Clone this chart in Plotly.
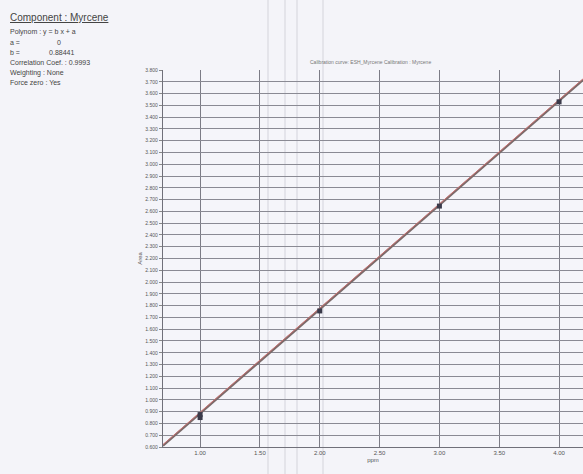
import plotly.graph_objects as go

# ---- data ----
amount = [1.0, 1.0, 2.0, 3.0, 4.0]
area = [0.85, 0.875, 1.755, 2.645, 3.53]
slope_b = 0.88441
intercept_a = 0.0
line_x = [0.69, 4.2]
x_ticks = [1.0, 1.5, 2.0, 2.5, 3.0, 3.5, 4.0]
y_ticks = [round(0.6 + 0.1 * i, 1) for i in range(33)]
info_lines = [
    "Polynom : y = b x + a",
    "a =                   0",
    "b =               0.88441",
    "Correlation Coef. : 0.9993",
    "Weighting : None",
    "Force zero : Yes",
]

W, H = 583, 474
L, R, T, B = 163, 0, 70, 27
pw, ph = W - L - R, H - T - B

def px(x):
    return (x - L) / pw

def py(y):
    return (H - B - y) / ph

line_y = [slope_b * v + intercept_a for v in line_x]

fig = go.Figure()
fig.add_trace(go.Scatter(x=line_x, y=line_y, mode="lines",
                         line=dict(color="#7a6a6a", width=2.2), hoverinfo="skip"))
fig.add_trace(go.Scatter(x=line_x, y=[v + 0.01 for v in line_y], mode="lines",
                         line=dict(color="#c87070", width=1), hoverinfo="skip"))
fig.add_trace(go.Scatter(x=amount, y=area, mode="markers",
                         marker=dict(symbol="square", size=5, color="#3a3a4a")))

fig.update_xaxes(range=[0.69, 4.2], tickvals=x_ticks,
                 ticktext=[f"{v:.2f}" for v in x_ticks],
                 showgrid=True, gridcolor="#7c7c86", gridwidth=1.3,
                 showline=True, linecolor="#70707a", linewidth=1.3,
                 zeroline=False, tickfont=dict(size=6, color="#555"),
                 ticks="", title=dict(text="ppm", font=dict(size=6, color="#555"), standoff=2))
fig.update_yaxes(range=[0.6, 3.8], tickvals=y_ticks,
                 ticktext=[f"{v:.3f}" for v in y_ticks],
                 showgrid=True, gridcolor="#8a8a94", gridwidth=1.3,
                 showline=True, linecolor="#70707a", linewidth=1.3,
                 zeroline=False, tickfont=dict(size=5, color="#555"),
                 ticks="outside", ticklen=3, tickcolor="#888",
                 title=dict(text="Area", font=dict(size=6, color="#555"), standoff=2))

ann = []
ann.append(dict(x=px(8), y=py(17), xref="paper", yref="paper", xanchor="left", yanchor="middle",
                text="<u>Component : Myrcene</u>", showarrow=False,
                font=dict(size=10, color="#444", family="Liberation Sans")))
for i, t in enumerate(info_lines):
    ann.append(dict(x=px(8), y=py(32 + i * 10.2), xref="paper", yref="paper",
                    xanchor="left", yanchor="middle", text=t, showarrow=False,
                    font=dict(size=7, color="#444", family="Liberation Sans")))
ann.append(dict(x=px(370), y=py(62), xref="paper", yref="paper", xanchor="center",
                yanchor="middle", text="Calibration curve: ESH_Myrcene Calibration : Myrcene",
                showarrow=False, font=dict(size=5, color="#777", family="Liberation Sans")))

shapes = []
for xa in [268, 285, 297, 323]:
    shapes.append(dict(type="line", xref="paper", yref="paper", x0=px(xa), x1=px(xa),
                       y0=py(0), y1=py(H), line=dict(color="rgba(150,150,160,0.35)", width=1),
                       layer="below"))

fig.update_layout(width=W, height=H, margin=dict(l=L, r=R, t=T, b=B),
                  paper_bgcolor="#f4f4f9", plot_bgcolor="#f5f5fa",
                  showlegend=False, annotations=ann, shapes=shapes,
                  font=dict(family="Liberation Sans"))
fig.write_html("out.html")
